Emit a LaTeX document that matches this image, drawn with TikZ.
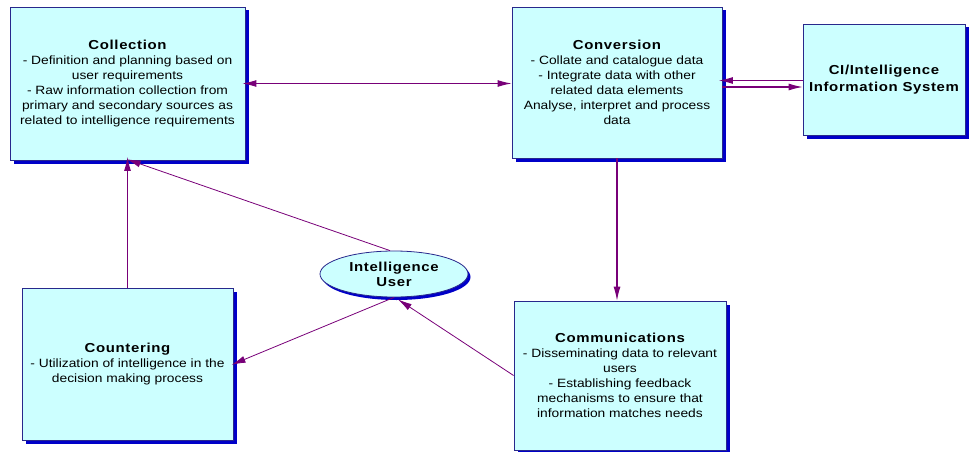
\documentclass[tikz,border=0pt]{standalone}
\usepackage{fontspec}
\setmainfont[FakeStretch=1.15]{Liberation Sans}
\newfontfamily\headfont[FakeStretch=1.15,LetterSpace=5]{Liberation Sans}
\usetikzlibrary{arrows.meta,shapes.geometric,shadows}

\definecolor{boxfill}{RGB}{204,255,255}
\definecolor{boxline}{RGB}{40,40,140}
\definecolor{shadowblue}{RGB}{0,0,200}
\definecolor{linkpurple}{RGB}{120,0,120}

\newcommand{\headline}[1]{{\headfont\bfseries\fontsize{13}{15}\selectfont #1}}

\begin{document}
\begin{tikzpicture}
  [x=1pt,y=-1pt,
   stage/.style={rectangle,draw=boxline,fill=boxfill,line width=0.8pt,
     align=center,inner sep=0pt,font=\fontsize{12}{15}\selectfont,
     drop shadow={shadow xshift=3.5pt,shadow yshift=-3.5pt,fill=shadowblue,opacity=1}},
   user/.style={ellipse,draw=boxline,fill=boxfill,line width=0.8pt,
     align=center,inner sep=0pt,minimum width=148pt,minimum height=46pt,
     drop shadow={shadow xshift=2.5pt,shadow yshift=-3pt,fill=shadowblue,opacity=1}},
   link/.style={-{Latex[length=14pt,width=7pt]},draw=linkpurple,line width=1.1pt},
   both ways/.style={{Latex[length=14pt,width=7pt]}-{Latex[length=14pt,width=7pt]}}]

  \useasboundingbox (0,0) rectangle (972,452);

  % stages
  \node [stage,minimum width=235pt,minimum height=153pt] (coll) at (127.5,83.5)
    {\headline{Collection}\\- Definition and planning based on\\user requirements\\
     - Raw information collection from\\primary and secondary sources as\\
     related to intelligence requirements};
  \node [stage,minimum width=210pt,minimum height=151pt] (conv) at (617,82.5)
    {\headline{Conversion}\\- Collate and catalogue data\\- Integrate data with other\\
     related data elements\\Analyse, interpret and process\\data};
  \node [stage,minimum width=162pt,minimum height=111pt,
         font=\fontsize{12}{16.7}\selectfont] (cis) at (884,79.5)
    {\headline{CI/Intelligence}\\\headline{Information System}};
  \node [stage,minimum width=211pt,minimum height=152pt] (count) at (127.5,364)
    {\headline{Countering}\\- Utilization of intelligence in the\\decision making process};
  \node [stage,minimum width=212pt,minimum height=149pt] (comm) at (620,375.5)
    {\headline{Communications}\\- Disseminating data to relevant\\users\\
     - Establishing feedback\\mechanisms to ensure that\\information matches needs};

  % user in the middle
  \node [user,font=\fontsize{12}{15}\selectfont] (usr) at (394,274)
    {\headline{Intelligence}\\\headline{User}};

  % links
  \draw [link,both ways,shorten <=-3pt] (coll.east) -- (coll.east -| conv.west);
  \draw [link,shorten >=-3.5pt] ([yshift=-1pt]cis.west) -- ([yshift=-1pt]cis.west -| conv.east);
  \draw [link] ([yshift=-4.5pt]conv.east) -- ([yshift=-4.5pt]conv.east -| cis.west);
  \draw [link] (conv.south) -- (conv.south |- comm.north);
  \draw [link,shorten >=-3.5pt] (count.north) -- (coll.south);
  \draw [link,line width=0.8pt,shorten >=-3.5pt] ([xshift=-4pt]usr.north) -- ([xshift=2.5pt]coll.south);
  \draw [link,line width=0.8pt,shorten >=-2pt] (usr.south) -- (count.east);
  \draw [link,line width=0.8pt] (comm.west) -- ([xshift=4pt,yshift=-2pt]usr.south);

\end{tikzpicture}
\end{document}
